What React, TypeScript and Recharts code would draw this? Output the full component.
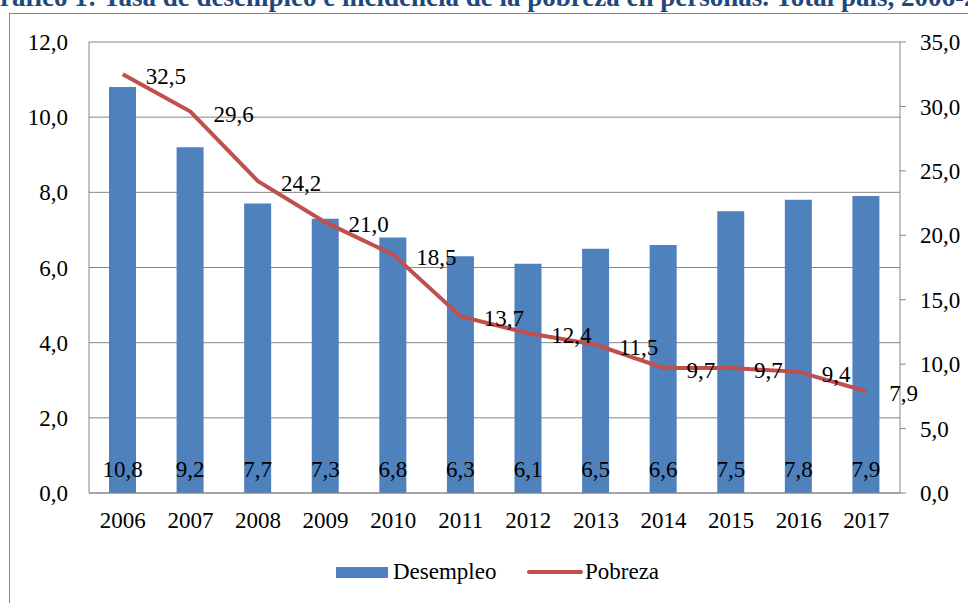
import * as React from "react";
import {
  ComposedChart,
  Bar,
  Line,
  XAxis,
  YAxis,
  CartesianGrid,
  LabelList,
} from "recharts";

const years = ["2006", "2007", "2008", "2009", "2010", "2011", "2012", "2013", "2014", "2015", "2016", "2017"];
const desempleo = [10.8, 9.2, 7.7, 7.3, 6.8, 6.3, 6.1, 6.5, 6.6, 7.5, 7.8, 7.9];
const pobreza = [32.5, 29.6, 24.2, 21.0, 18.5, 13.7, 12.4, 11.5, 9.7, 9.7, 9.4, 7.9];
const leftTicks = [0, 2, 4, 6, 8, 10, 12];
const rightTicks = [0, 5, 10, 15, 20, 25, 30, 35];

const data = years.map((year, i) => ({
  year,
  desempleo: desempleo[i],
  pobreza: pobreza[i],
}));

const SERIF = "'Liberation Serif', 'Times New Roman', serif";
const BLUE = "#4F81BD";
const RED = "#C0504D";
const GRAY = "#868686";

const fmt = (v: number) => Number(v).toFixed(1).replace(".", ",");

// labels of the poverty line sit to the right of each point
const LineLabel = (props: any) => {
  const vb = props.viewBox || props;
  const x = props.x ?? vb.x;
  const y = props.y ?? vb.y;
  return (
    <text x={x + 23} y={y + 10} fontSize={23} fontFamily={SERIF} fill="#000">
      {fmt(props.value)}
    </text>
  );
};

export default function App() {
  const tickStyle = { fill: "#000", fontSize: 23, fontFamily: SERIF };

  return (
    <div
      style={{
        position: "absolute",
        left: 0,
        top: 0,
        width: 968,
        height: 603,
        overflow: "hidden",
        background: "#fff",
        fontFamily: SERIF,
      }}
    >
      <div
        style={{
          position: "absolute",
          left: -21,
          top: -16,
          whiteSpace: "nowrap",
          fontSize: 27,
          lineHeight: "27px",
          fontWeight: "bold",
          color: "#1F497D",
        }}
      >
        Gráfico 1: Tasa de desempleo e incidencia de la pobreza en personas. Total país, 2006-2017
      </div>
      <div
        style={{
          position: "absolute",
          left: 9,
          top: 13,
          width: 1000,
          height: 640,
          border: `1px solid ${GRAY}`,
        }}
      />
      <div style={{ position: "absolute", left: 0, top: 0 }}>
        <ComposedChart
          width={968}
          height={603}
          data={data}
          margin={{ top: 42, right: 0, bottom: 80, left: 0 }}
        >
          <CartesianGrid yAxisId="left" vertical={false} stroke={GRAY} strokeWidth={1} />
          <XAxis
            dataKey="year"
            height={30}
            tickLine={false}
            tickMargin={13}
            stroke={GRAY}
            tick={tickStyle}
          />
          <YAxis
            yAxisId="left"
            width={89}
            domain={[0, 12]}
            ticks={leftTicks}
            tickFormatter={fmt}
            tickLine={false}
            tickMargin={15}
            stroke={GRAY}
            tick={tickStyle}
          />
          <YAxis
            yAxisId="right"
            orientation="right"
            width={68}
            domain={[0, 35]}
            ticks={rightTicks}
            tickFormatter={fmt}
            tickSize={6}
            tickMargin={14}
            stroke={GRAY}
            tick={tickStyle}
          />
          <Bar yAxisId="left" dataKey="desempleo" fill={BLUE} barSize={27} isAnimationActive={false}>
            <LabelList
              dataKey="desempleo"
              position="insideBottom"
              offset={16}
              formatter={(v: any) => fmt(v)}
              fill="#000"
              fontSize={23}
              fontFamily={SERIF}
            />
          </Bar>
          <Line
            yAxisId="right"
            type="linear"
            dataKey="pobreza"
            stroke={RED}
            strokeWidth={4}
            dot={false}
            activeDot={false}
            isAnimationActive={false}
          >
            <LabelList dataKey="pobreza" content={LineLabel} />
          </Line>
        </ComposedChart>
      </div>
      {/* legend */}
      <div style={{ position: "absolute", left: 336, top: 567, width: 52, height: 11, background: BLUE }} />
      <div style={{ position: "absolute", left: 393, top: 560, fontSize: 23, lineHeight: "23px", color: "#000" }}>
        Desempleo
      </div>
      <div
        style={{
          position: "absolute",
          left: 527,
          top: 570,
          width: 56,
          height: 4,
          borderRadius: 2,
          background: RED,
        }}
      />
      <div style={{ position: "absolute", left: 585, top: 560, fontSize: 23, lineHeight: "23px", color: "#000" }}>
        Pobreza
      </div>
    </div>
  );
}
